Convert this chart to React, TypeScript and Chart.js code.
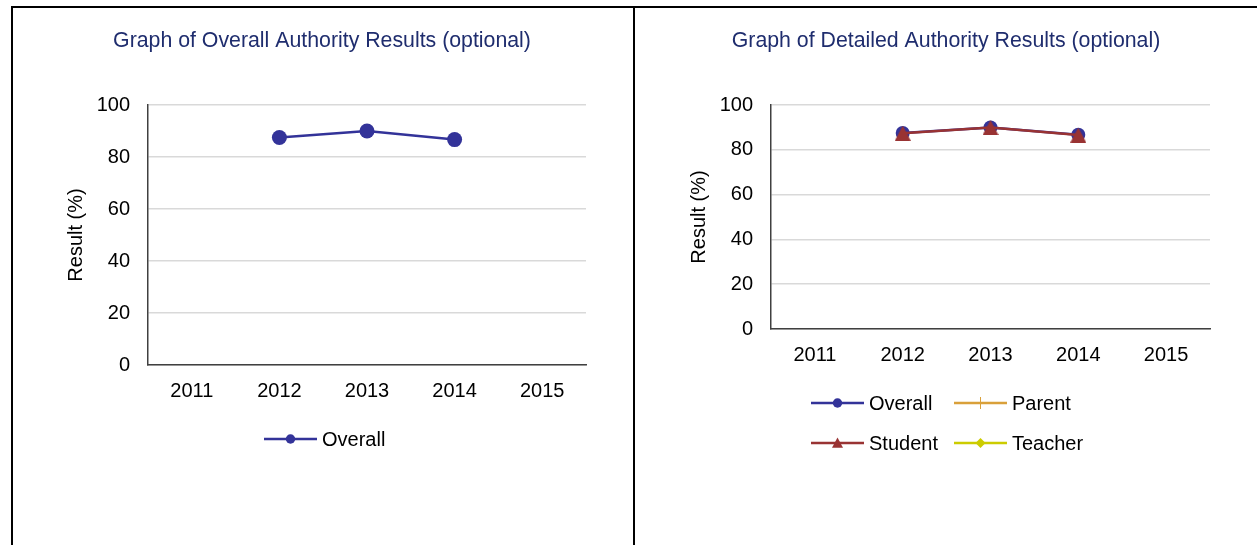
import React, { useEffect, useRef } from 'react';
import { Chart, registerables } from 'chart.js';

Chart.register(...registerables);

// ---------- data ----------
const years = ['2011', '2012', '2013', '2014', '2015'];
const overallValues: (number | null)[] = [null, 87.5, 90.0, 86.7, null];
const parentValues: (number | null)[] = [null, null, null, null, null];
const studentValues: (number | null)[] = [null, 87.4, 89.9, 86.6, null];
const teacherValues: (number | null)[] = [null, null, null, null, null];
const yMin = 0;
const yMax = 100;
const yStep = 20;
const title1 = 'Graph of Overall Authority Results (optional)';
const title2 = 'Graph of Detailed Authority Results (optional)';
const yAxisTitle = 'Result (%)';
const seriesNames = ['Overall', 'Parent', 'Student', 'Teacher'];

// ---------- styles ----------
const FONT = "'Liberation Sans', Arial, Helvetica, sans-serif";
const C_OVERALL = '#333399';
const C_PARENT = '#D9A03A';
const C_STUDENT = '#993333';
const C_TEACHER = '#CCCC00';
const TITLE_COLOR = '#1F2D6E';

function drawMarker(ctx: CanvasRenderingContext2D, style: string, x: number, y: number, r: number, color: string) {
  ctx.save();
  ctx.fillStyle = color;
  ctx.strokeStyle = color;
  ctx.beginPath();
  if (style === 'circle') {
    ctx.arc(x, y, r, 0, Math.PI * 2);
    ctx.fill();
  } else if (style === 'triangle') {
    ctx.moveTo(x, y - r);
    ctx.lineTo(x + r, y + r * 0.85);
    ctx.lineTo(x - r, y + r * 0.85);
    ctx.closePath();
    ctx.fill();
  } else if (style === 'cross') {
    ctx.lineWidth = 1;
    ctx.moveTo(x, y - r);
    ctx.lineTo(x, y + r);
    ctx.stroke();
  } else if (style === 'rectRot') {
    ctx.moveTo(x, y - r);
    ctx.lineTo(x + r, y);
    ctx.lineTo(x, y + r);
    ctx.lineTo(x - r, y);
    ctx.closePath();
    ctx.fill();
  }
  ctx.restore();
}

function makeTriangleImage(color: string, w: number, h: number): HTMLCanvasElement {
  const c = document.createElement('canvas');
  c.width = w;
  c.height = h;
  const g = c.getContext('2d')!;
  g.fillStyle = color;
  g.beginPath();
  g.moveTo(w / 2, 0);
  g.lineTo(w, h);
  g.lineTo(0, h);
  g.closePath();
  g.fill();
  return c;
}

const decorPlugin = {
  id: 'decor',
  afterDraw(chart: any, _args: any, opts: any) {
    const ctx: CanvasRenderingContext2D = chart.ctx;
    ctx.save();
    ctx.font = `${opts.titleSize}px ${FONT}`;
    ctx.fillStyle = TITLE_COLOR;
    ctx.textAlign = 'center';
    ctx.textBaseline = 'middle';
    ctx.fillText(opts.title, opts.titleX, opts.titleY);

    ctx.font = `${opts.legendSize}px ${FONT}`;
    ctx.textAlign = 'left';
    (opts.items || []).forEach((it: any) => {
      const ds = chart.data.datasets[it.index];
      const color = ds.borderColor as string;
      ctx.save();
      ctx.strokeStyle = color;
      ctx.lineWidth = ds.borderWidth;
      ctx.beginPath();
      ctx.moveTo(it.x, it.y);
      ctx.lineTo(it.x + opts.lineLen, it.y);
      ctx.stroke();
      ctx.restore();
      drawMarker(ctx, it.marker, it.x + opts.lineLen / 2, it.y, it.r, color);
      ctx.fillStyle = '#000';
      ctx.fillText(ds.label, it.x + opts.lineLen + 5, it.y + 1);
    });
    ctx.restore();
  },
};

function makeOptions(pad: { left: number; right: number; top: number; bottom: number }, decor: any) {
  return {
    responsive: false,
    animation: false as const,
    layout: { padding: pad },
    plugins: {
      legend: { display: false },
      title: { display: false },
      tooltip: { enabled: false },
      decor,
    },
    scales: {
      x: {
        type: 'category' as const,
        offset: true,
        grid: { display: false, drawTicks: false },
        border: { display: true, color: '#404040', width: 1.5 },
        ticks: { color: '#000', font: { size: 20, family: FONT }, padding: 14, maxRotation: 0, autoSkip: false },
        afterFit: (s: any) => { s.height = 40; },
      },
      y: {
        min: yMin,
        max: yMax,
        grid: { color: '#D9D9D9', lineWidth: 1.5, drawTicks: false },
        border: { display: true, color: '#404040', width: 1.5 },
        ticks: { stepSize: yStep, color: '#000', font: { size: 20, family: FONT }, padding: 18 },
        title: { display: true, text: yAxisTitle, color: '#000', font: { size: 20, family: FONT }, padding: { top: 14, bottom: 0 } },
        afterFit: (s: any) => { s.width = 98; },
      },
    },
  };
}

function OverallChart() {
  const ref = useRef<HTMLCanvasElement | null>(null);
  useEffect(() => {
    if (!ref.current) return;
    const chart = new Chart(ref.current, {
      type: 'line',
      data: {
        labels: years,
        datasets: [
          {
            label: seriesNames[0], data: overallValues, borderColor: C_OVERALL, backgroundColor: C_OVERALL,
            borderWidth: 2.5, pointStyle: 'circle', pointRadius: 7.5, pointBorderWidth: 0, tension: 0, spanGaps: false,
          },
        ],
      },
      options: makeOptions({ left: 50, right: 48, top: 105, bottom: 140 }, {
        title: title1, titleX: 322, titleY: 41, titleSize: 21.3, legendSize: 20, lineLen: 53,
        items: [{ index: 0, x: 264, y: 439, r: 4.7, marker: 'circle' }],
      }) as any,
      plugins: [decorPlugin as any],
    });
    return () => chart.destroy();
  }, []);
  return <canvas ref={ref} width={634} height={545} style={{ position: 'absolute', left: 0, top: 0, width: 634, height: 545 }} />;
}

function DetailedChart() {
  const ref = useRef<HTMLCanvasElement | null>(null);
  useEffect(() => {
    if (!ref.current) return;
    const off = 634;
    const triImg = makeTriangleImage(C_STUDENT, 16, 15);
    const chart = new Chart(ref.current, {
      type: 'line',
      data: {
        labels: years,
        datasets: [
          {
            label: seriesNames[0], data: overallValues, borderColor: C_OVERALL, backgroundColor: C_OVERALL,
            borderWidth: 2.5, pointStyle: 'circle', pointRadius: 7, pointBorderWidth: 0, tension: 0, order: 4,
          },
          {
            label: seriesNames[1], data: parentValues, borderColor: C_PARENT, backgroundColor: C_PARENT,
            borderWidth: 2.5, pointStyle: 'cross', pointRadius: 6, pointBorderWidth: 1, tension: 0, order: 3,
          },
          {
            label: seriesNames[2], data: studentValues, borderColor: C_STUDENT, backgroundColor: C_STUDENT,
            borderWidth: 2.5, pointStyle: triImg, pointRadius: 8, pointBorderWidth: 0, tension: 0, order: 2,
          },
          {
            label: seriesNames[3], data: teacherValues, borderColor: C_TEACHER, backgroundColor: C_TEACHER,
            borderWidth: 2.5, pointStyle: 'rectRot', pointRadius: 6, pointBorderWidth: 0, tension: 0, order: 1,
          },
        ],
      },
      options: makeOptions({ left: 39, right: 47, top: 105, bottom: 176 }, {
        title: title2, titleX: 946 - off, titleY: 41, titleSize: 21.3, legendSize: 20, lineLen: 53,
        items: [
          { index: 0, x: 811 - off, y: 403, r: 4.7, marker: 'circle' },
          { index: 1, x: 954 - off, y: 403, r: 6, marker: 'cross' },
          { index: 2, x: 811 - off, y: 443, r: 5.5, marker: 'triangle' },
          { index: 3, x: 954 - off, y: 443, r: 5, marker: 'rectRot' },
        ],
      }) as any,
      plugins: [decorPlugin as any],
    });
    return () => chart.destroy();
  }, []);
  return <canvas ref={ref} width={623} height={545} style={{ position: 'absolute', left: 634, top: 0, width: 623, height: 545 }} />;
}

export default function App() {
  return (
    <div style={{ position: 'fixed', left: 0, top: 0, width: 1257, height: 545, background: '#fff', overflow: 'hidden' }}>
      <OverallChart />
      <DetailedChart />
      <div style={{ position: 'absolute', left: 11, top: 6, width: 1246, height: 2, background: '#000' }} />
      <div style={{ position: 'absolute', left: 11, top: 6, width: 2, height: 539, background: '#000' }} />
      <div style={{ position: 'absolute', left: 633, top: 6, width: 2, height: 539, background: '#000' }} />
    </div>
  );
}
